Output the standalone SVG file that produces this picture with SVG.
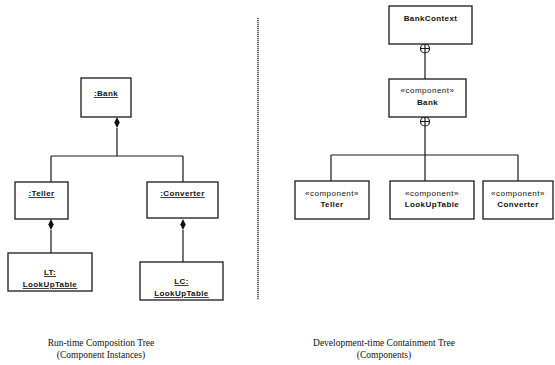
<svg xmlns="http://www.w3.org/2000/svg" width="555" height="365" viewBox="0 0 555 365">
  <style>
    .box { fill: #fff; stroke: #1a1a1a; stroke-width: 1.3; }
    .line { fill: none; stroke: #1a1a1a; stroke-width: 1.2; }
    .name { font-family: "Liberation Sans", Arial, sans-serif; font-size: 8px; font-weight: bold; fill: #111; text-anchor: middle; letter-spacing: 0.4px; }
    .inst { text-decoration: underline; }
    .stereo { font-family: "Liberation Sans", Arial, sans-serif; font-size: 8px; fill: #111; text-anchor: middle; letter-spacing: 0.5px; }
    .caption { font-family: "Liberation Serif", "Times New Roman", serif; font-size: 9.5px; fill: #111; text-anchor: middle; }
  </style>
  <defs>
    <!-- filled composition diamond, tip at origin pointing up -->
    <path id="diamond" d="M0,0 L2.7,5.5 L0,11 L-2.7,5.5 Z" fill="#111"/>
    <!-- containment symbol: circle with cross -->
    <g id="contain">
      <circle cx="0" cy="0" r="4.5" fill="#fff" stroke="#1a1a1a" stroke-width="1.2"/>
      <path d="M-4.5,0 H4.5 M0,-4.5 V4.5" stroke="#1a1a1a" stroke-width="1.2"/>
    </g>
  </defs>

  <!-- connectors -->
  <g id="connectors">
    <!-- run-time composition tree -->
    <path class="line" d="M117,128 V156 M51,156 H183 M51,156 V182 M183,156 V182"/>
    <path class="line" d="M51,230 V253"/>
    <path class="line" d="M183,230 V262"/>
    <use href="#diamond" x="117" y="117"/>
    <use href="#diamond" x="51" y="219"/>
    <use href="#diamond" x="183" y="219"/>
    <!-- divider -->
    <path d="M258,18 V300" stroke="#222" stroke-width="1.3" stroke-dasharray="1.2,0.8" fill="none"/>
    <!-- development-time containment tree -->
    <path class="line" d="M425,53 V79"/>
    <path class="line" d="M425,126 V181 M331,155 H518 M331,155 V181 M518,155 V181"/>
    <use href="#contain" x="425" y="48.5"/>
    <use href="#contain" x="425" y="121.5"/>
  </g>

  <!-- run-time composition tree nodes -->
  <g id="bank-inst">
    <rect class="box" x="81" y="78" width="50" height="39"/>
    <text class="name inst" x="106" y="96">:Bank</text>
  </g>
  <g id="teller-inst">
    <rect class="box" x="15" y="182" width="53" height="37"/>
    <text class="name inst" x="41.5" y="196">:Teller</text>
  </g>
  <g id="converter-inst">
    <rect class="box" x="147" y="182" width="71" height="36"/>
    <text class="name inst" x="182.5" y="196">:Converter</text>
  </g>
  <g id="lt-inst">
    <rect class="box" x="8" y="253" width="84" height="38"/>
    <text class="name inst" x="50" y="275">LT:</text>
    <text class="name inst" x="50" y="287">LookUpTable</text>
  </g>
  <g id="lc-inst">
    <rect class="box" x="140" y="262" width="83" height="38"/>
    <text class="name inst" x="181.5" y="284">LC:</text>
    <text class="name inst" x="181.5" y="296">LookUpTable</text>
  </g>

  <!-- development-time containment tree nodes -->
  <g id="bank-context">
    <rect class="box" x="389" y="6" width="83" height="38"/>
    <text class="name" x="430.5" y="21">BankContext</text>
  </g>
  <g id="bank-comp">
    <rect class="box" x="389" y="79" width="77" height="38"/>
    <text class="stereo" x="427.5" y="93">«component»</text>
    <text class="name" x="427.5" y="105">Bank</text>
  </g>
  <g id="teller-comp">
    <rect class="box" x="295" y="181" width="74" height="38"/>
    <text class="stereo" x="332" y="196">«component»</text>
    <text class="name" x="332" y="207">Teller</text>
  </g>
  <g id="lookuptable-comp">
    <rect class="box" x="390" y="181" width="84" height="38"/>
    <text class="stereo" x="432" y="196">«component»</text>
    <text class="name" x="432" y="207">LookUpTable</text>
  </g>
  <g id="converter-comp">
    <rect class="box" x="483" y="181" width="70" height="38"/>
    <text class="stereo" x="518" y="196">«component»</text>
    <text class="name" x="518" y="207">Converter</text>
  </g>

  <!-- captions -->
  <g id="captions">
    <text class="caption" x="101" y="346">Run-time Composition Tree</text>
    <text class="caption" x="101" y="358">(Component Instances)</text>
    <text class="caption" x="384" y="346">Development-time Containment Tree</text>
    <text class="caption" x="384" y="358">(Components)</text>
  </g>
</svg>
